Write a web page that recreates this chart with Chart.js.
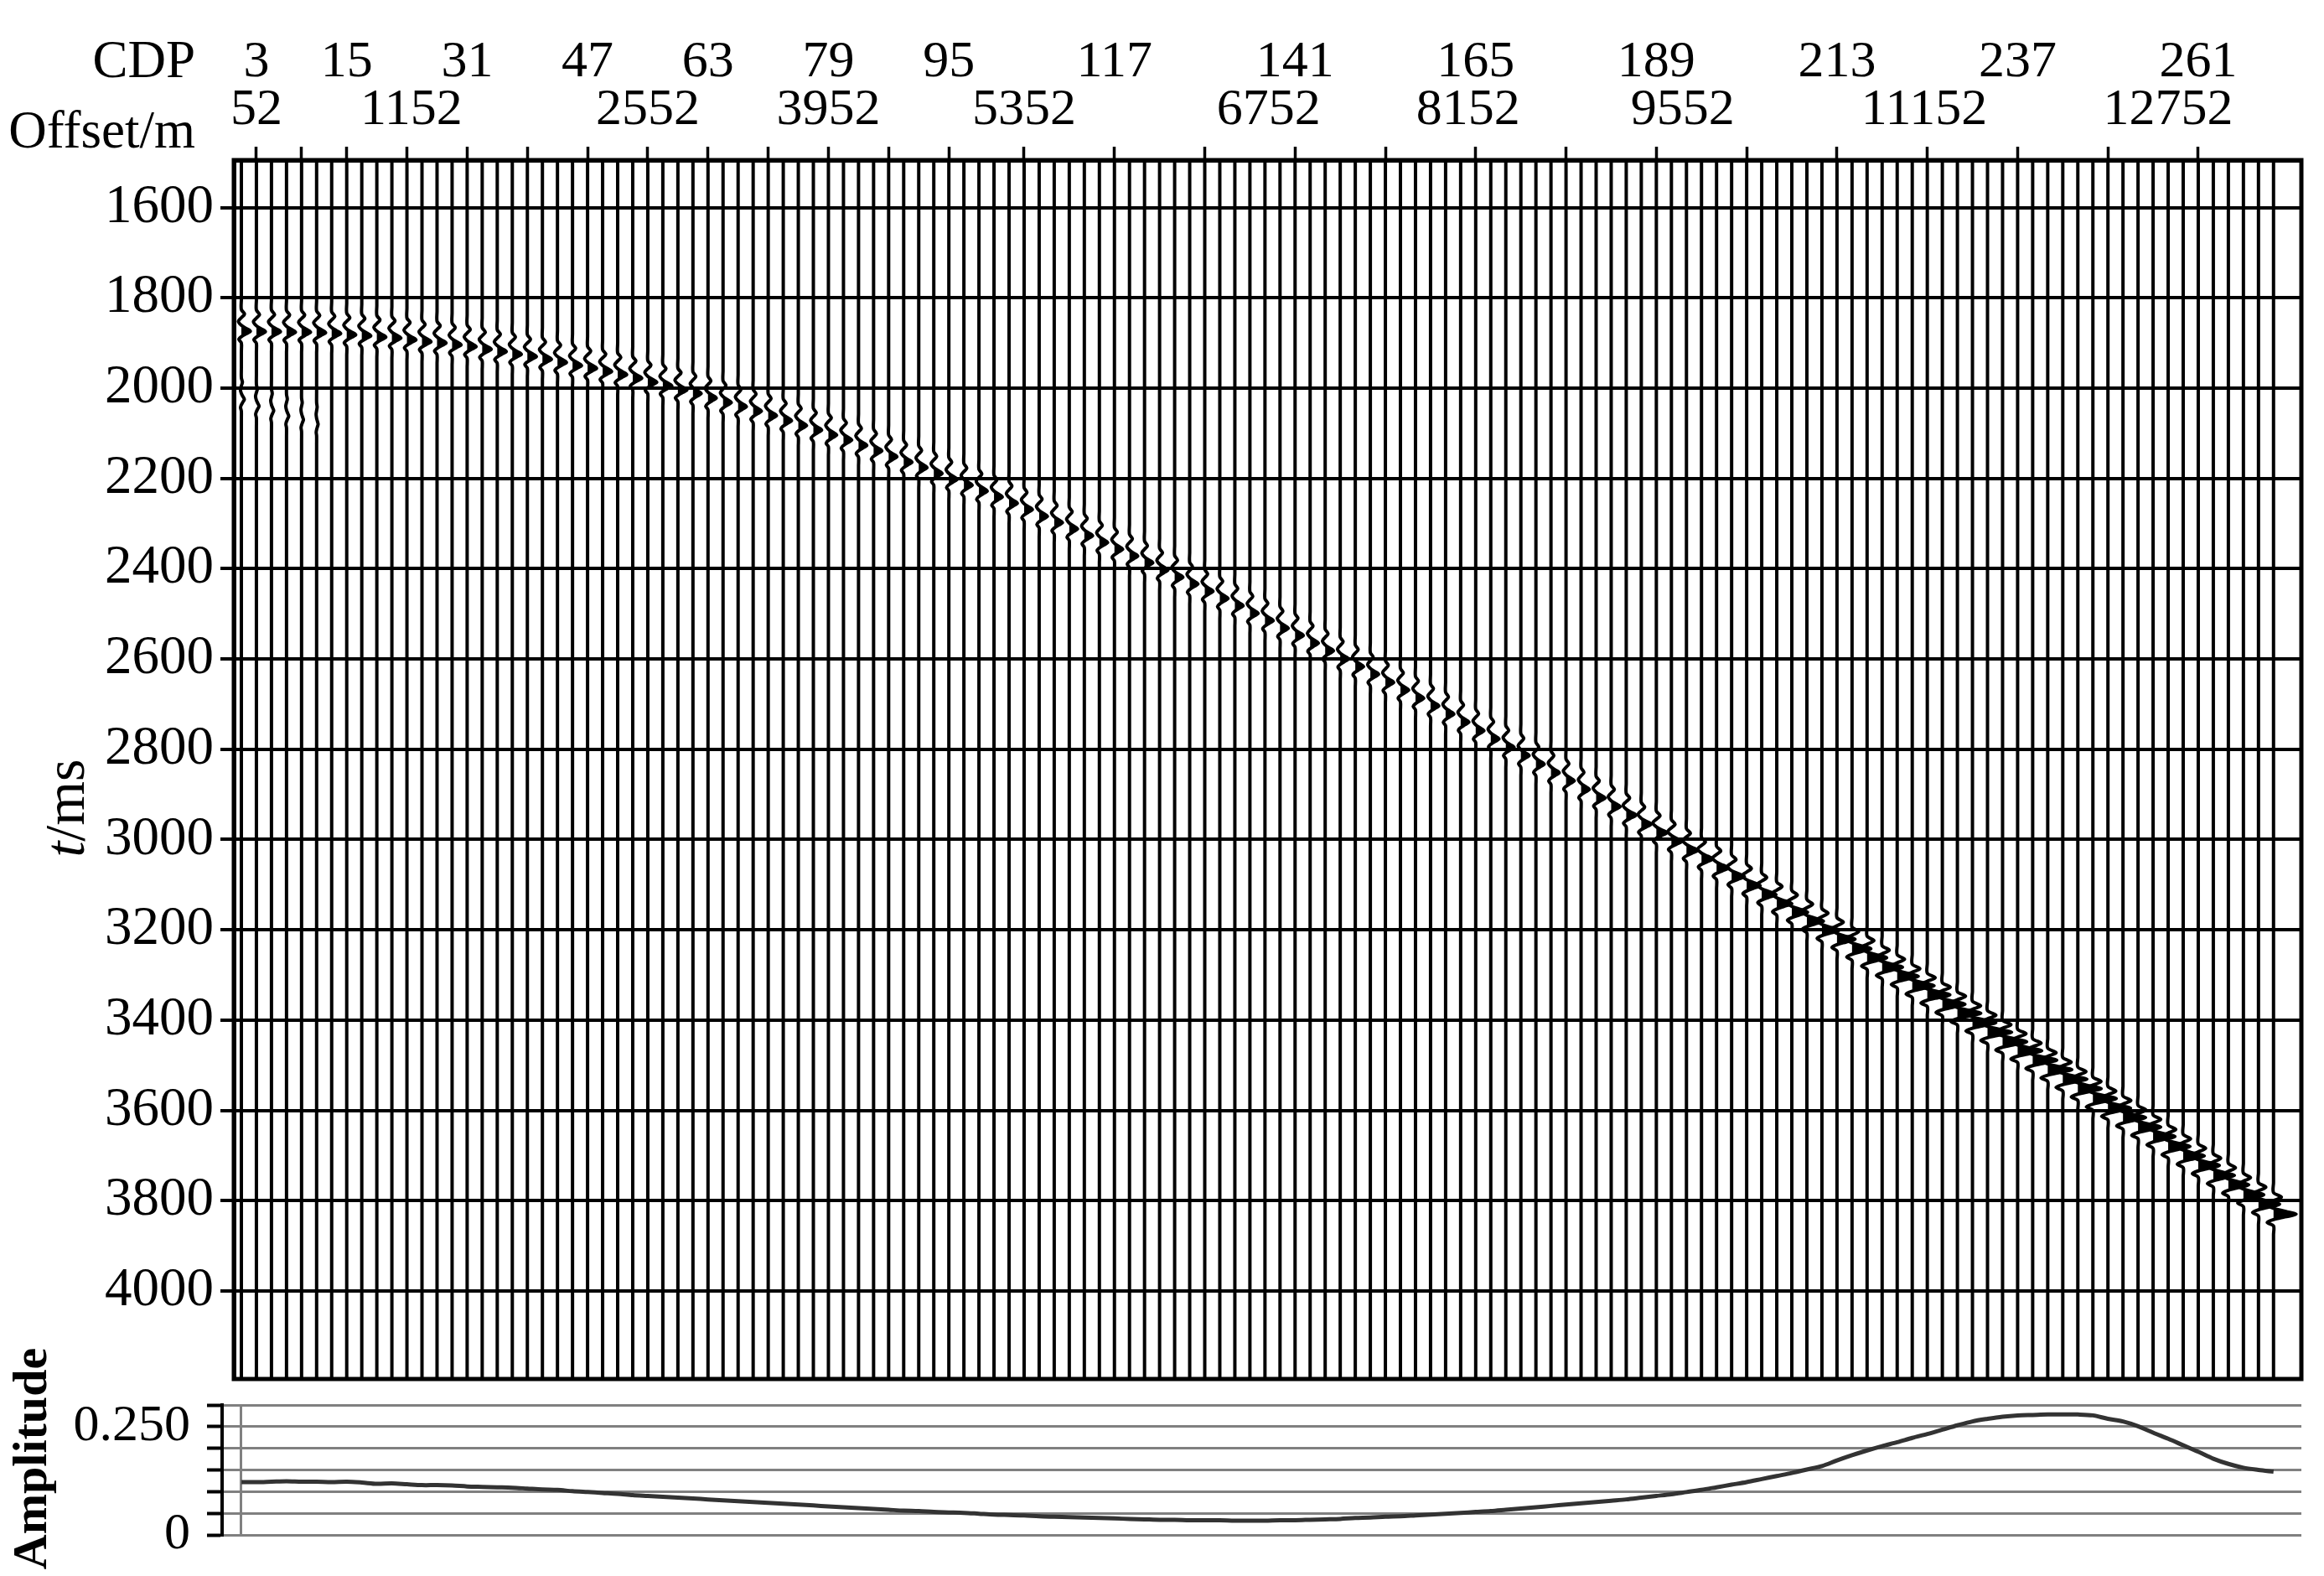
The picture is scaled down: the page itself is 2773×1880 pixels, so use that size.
<!DOCTYPE html>
<html>
<head>
<meta charset="utf-8">
<title>CDP gather</title>
<script src="https://cdn.jsdelivr.net/npm/chart.js@4.4.1/dist/chart.umd.min.js"></script>
<style>
  html, body { margin: 0; padding: 0; background: #fff; }
  #wrap { position: relative; width: 2773px; height: 1880px; }
  #gatherChart { position: absolute; left: 0; top: 0; }
  #ampChart { position: absolute; left: 0; top: 1560px; }
</style>
</head>
<body>
<div id="wrap">
  <canvas id="gatherChart" width="2773" height="1660"></canvas>
  <canvas id="ampChart" width="2773" height="320"></canvas>
</div>
<script>
// one trace every 2 CDP
const traceCdp = [
  1, 3, 5, 7, 9, 11, 13, 15, 17, 19, 21, 23, 25, 27, 29, 31, 33, 35, 37, 39,
  41, 43, 45, 47, 49, 51, 53, 55, 57, 59, 61, 63, 65, 67, 69, 71, 73, 75, 77, 79,
  81, 83, 85, 87, 89, 91, 93, 95, 97, 99, 101, 103, 105, 107, 109, 111, 113, 115, 117, 119,
  121, 123, 125, 127, 129, 131, 133, 135, 137, 139, 141, 143, 145, 147, 149, 151, 153, 155, 157, 159,
  161, 163, 165, 167, 169, 171, 173, 175, 177, 179, 181, 183, 185, 187, 189, 191, 193, 195, 197, 199,
  201, 203, 205, 207, 209, 211, 213, 215, 217, 219, 221, 223, 225, 227, 229, 231, 233, 235, 237, 239,
  241, 243, 245, 247, 249, 251, 253, 255, 257, 259, 261, 263, 265, 267, 269, 271
];

// reflection time (ms) of the main event, per trace
const eventTime = [
  1874, 1875, 1875, 1876, 1876, 1877, 1879, 1882, 1884, 1887,
  1889, 1893, 1897, 1900, 1904, 1908, 1914, 1919, 1925, 1930,
  1936, 1943, 1950, 1956, 1963, 1970, 1978, 1987, 1995, 2004,
  2012, 2022, 2032, 2041, 2051, 2061, 2072, 2083, 2093, 2104,
  2115, 2127, 2139, 2152, 2164, 2176, 2189, 2202, 2215, 2228,
  2241, 2255, 2269, 2284, 2298, 2312, 2327, 2342, 2357, 2372,
  2387, 2403, 2419, 2434, 2450, 2466, 2482, 2499, 2515, 2532,
  2548, 2565, 2582, 2600, 2617, 2634, 2652, 2669, 2687, 2704,
  2722, 2740, 2759, 2777, 2796, 2814, 2833, 2852, 2870, 2889,
  2908, 2927, 2946, 2966, 2985, 3004, 3024, 3043, 3063, 3082,
  3102, 3122, 3142, 3161, 3181, 3201, 3221, 3242, 3262, 3283,
  3303, 3324, 3344, 3365, 3385, 3406, 3427, 3448, 3468, 3489,
  3510, 3531, 3552, 3574, 3595, 3616, 3637, 3658, 3680, 3701,
  3722, 3744, 3765, 3787, 3808, 3830
];

// wiggle deflection (in CDP units) per trace
const wiggleGain = [
  1.2, 1.2, 1.2, 1.2, 1.2, 1.2, 1.2, 1.2, 1.2, 1.2,
  1.2, 1.2, 1.2, 1.2, 1.2, 1.2, 1.2, 1.2, 1.2, 1.2,
  1.2, 1.2, 1.2, 1.2, 1.2, 1.2, 1.2, 1.2, 1.2, 1.2,
  1.1, 1.1, 1.1, 1.1, 1.1, 1.1, 1.1, 1.1, 1.1, 1.1,
  1.1, 1.1, 1.1, 1.1, 1.1, 1.1, 1.1, 1.1, 1.1, 1.1,
  1.1, 1.1, 1.1, 1.1, 1.1, 1.1, 1.1, 1.1, 1.1, 1.1,
  1.1, 1.1, 1.1, 1.1, 1.1, 1.1, 1.1, 1.1, 1.1, 1.1,
  1.1, 1.1, 1.1, 1.1, 1.1, 1.1, 1.1, 1.1, 1.1, 1.1,
  1.1, 1.1, 1.1, 1.1, 1.1, 1.1, 1.1, 1.1, 1.1, 1.1,
  1.2, 1.2, 1.3, 1.3, 1.4, 1.4, 1.5, 1.5, 1.6, 1.7,
  1.8, 1.9, 2.0, 2.1, 2.2, 2.3, 2.4, 2.5, 2.6, 2.7,
  2.8, 2.9, 3.0, 3.0, 3.1, 3.1, 3.2, 3.2, 3.2, 3.2,
  3.2, 3.2, 3.1, 3.1, 3.0, 3.0, 3.0, 2.9, 2.9, 2.8,
  2.8, 2.8, 2.7, 2.7, 2.8, 3.0
];

// weak later event on the nearest traces only
const earlyEventTime = [2025, 2040, 2050, 2062, 2070, 2080];
const earlyEventGain = [0.4, 0.35, 0.3, 0.3, 0.25, 0.2];

// wavelet shape: time (ms) from peak, relative deflection
const waveletMs  = [-70, -48, -38, -30, -22, -13, -6, 0, 6, 12, 18, 26, 45];
const waveletAmp = [0, 0, 0.35, 0, -0.33, 0, 0.55, 1, 0.5, 0, -0.28, 0, 0];

// bottom panel
const amplitude = [
  0.122, 0.122, 0.123, 0.124, 0.123, 0.123, 0.122, 0.123, 0.121, 0.118,
  0.119, 0.117, 0.115, 0.115, 0.114, 0.112, 0.111, 0.110, 0.109, 0.107,
  0.105, 0.104, 0.101, 0.099, 0.097, 0.095, 0.092, 0.090, 0.088, 0.086,
  0.084, 0.082, 0.080, 0.078, 0.076, 0.074, 0.072, 0.070, 0.068, 0.066,
  0.064, 0.062, 0.060, 0.058, 0.056, 0.055, 0.053, 0.052, 0.051, 0.049,
  0.047, 0.046, 0.045, 0.043, 0.042, 0.041, 0.040, 0.039, 0.038, 0.037,
  0.036, 0.035, 0.035, 0.034, 0.034, 0.034, 0.033, 0.033, 0.033, 0.034,
  0.034, 0.035, 0.036, 0.037, 0.039, 0.040, 0.042, 0.043, 0.045, 0.047,
  0.049, 0.051, 0.053, 0.055, 0.058, 0.061, 0.064, 0.067, 0.070, 0.073,
  0.076, 0.079, 0.082, 0.086, 0.090, 0.094, 0.099, 0.104, 0.110, 0.116,
  0.122, 0.129, 0.136, 0.143, 0.151, 0.159, 0.172, 0.184, 0.195, 0.205,
  0.214, 0.224, 0.233, 0.243, 0.253, 0.262, 0.268, 0.273, 0.276, 0.277,
  0.278, 0.278, 0.278, 0.276, 0.268, 0.262, 0.251, 0.236, 0.222, 0.207,
  0.192, 0.176, 0.164, 0.155, 0.150, 0.146
];

// axes
const timeTicks = [1600, 1800, 2000, 2200, 2400, 2600, 2800, 3000, 3200, 3400, 3600, 3800, 4000];
const cdpTickMarks = [3, 9, 15, 23, 31, 39, 47, 55, 63, 71, 79, 87, 95, 105, 117, 129, 141, 153, 165, 177, 189, 201, 213, 225, 237, 249, 261];
const cdpLabels = [3, 15, 31, 47, 63, 79, 95, 117, 141, 165, 189, 213, 237, 261];
const offsetLabels = [52, 1152, 2552, 3952, 5352, 6752, 8152, 9552, 11152, 12752];
const offsetLabelCdp = [3, 23.6, 55, 79, 105, 137.5, 164, 192.5, 224.6, 257];
const ampTicks = [0, 0.05, 0.1, 0.15, 0.2, 0.25, 0.3];
const ampTickLabels = ['0', '', '', '', '', '0.250', ''];

const cdpMin = 0, cdpMax = 274.7;
const timeMin = 1495, timeMax = 4195;

Chart.defaults.font.family = "'Liberation Serif', 'Times New Roman', serif";
Chart.defaults.color = '#000';

// fixed axis size, and no extra label padding pushed into the layout
const fixSize = (size, horizontal) => scale => {
    if (horizontal) scale.height = size;
    else scale.width = size;
    scale.paddingTop = 0;
    scale.paddingBottom = 0;
    scale.paddingLeft = 0;
    scale.paddingRight = 0;
};

// positive lobe around the peak (filled black)
const peakIdx = waveletAmp.indexOf(Math.max(...waveletAmp));
let lobeStart = peakIdx, lobeEnd = peakIdx;
while (lobeStart > 0 && waveletAmp[lobeStart] > 0) lobeStart--;
while (lobeEnd < waveletAmp.length - 1 && waveletAmp[lobeEnd] > 0) lobeEnd++;

const wigglePoints = (cdp, events) => {
    const pts = [{x: cdp, y: timeMin}];
    events.forEach(ev => {
        waveletMs.forEach((dt, j) => pts.push({x: cdp + ev.gain * waveletAmp[j], y: ev.t + dt}));
    });
    pts.push({x: cdp, y: timeMax});
    return pts;
};

const traceSets = traceCdp.map((cdp, i) => {
    const events = [{t: eventTime[i], gain: wiggleGain[i]}];
    if (i < earlyEventTime.length) events.push({t: earlyEventTime[i], gain: earlyEventGain[i]});
    return {
        data: wigglePoints(cdp, events),
        showLine: true,
        borderColor: '#000',
        borderWidth: 4,
        pointRadius: 0,
        tension: 0.3
    };
});

const lobeSets = traceCdp.map((cdp, i) => {
    const pts = [];
    for (let j = lobeStart; j <= lobeEnd; j++) {
        pts.push({x: cdp + wiggleGain[i] * waveletAmp[j], y: eventTime[i] + waveletMs[j]});
    }
    return {
        data: pts,
        showLine: true,
        borderColor: '#000',
        borderWidth: 1,
        backgroundColor: '#000',
        pointRadius: 0,
        tension: 0.3,
        fill: 'shape'
    };
});

const gatherTitles = {
    id: 'gatherTitles',
    afterDraw(chart) {
        const {ctx, chartArea} = chart;
        ctx.save();
        ctx.strokeStyle = '#000';
        ctx.lineWidth = 5;
        ctx.strokeRect(chartArea.left, chartArea.top, chartArea.right - chartArea.left, chartArea.bottom - chartArea.top);

        ctx.fillStyle = '#000';
        ctx.font = "63px 'Liberation Serif'";
        ctx.textAlign = 'right';
        ctx.textBaseline = 'alphabetic';
        ctx.fillText('CDP', 233, 92);
        ctx.fillText('Offset/m', 233, 176);

        // t/ms, rotated
        ctx.translate(82, 964);
        ctx.rotate(-Math.PI / 2);
        ctx.textAlign = 'left';
        ctx.textBaseline = 'middle';
        ctx.font = "italic 68px 'Liberation Serif'";
        const wT = ctx.measureText('t').width;
        ctx.font = "68px 'Liberation Serif'";
        const wRest = ctx.measureText('/ms').width;
        const x0 = -(wT + wRest) / 2;
        ctx.font = "italic 68px 'Liberation Serif'";
        ctx.fillText('t', x0, 0);
        ctx.font = "68px 'Liberation Serif'";
        ctx.fillText('/ms', x0 + wT, 0);
        ctx.restore();
    }
};

const topLabelAxis = (positions, labels, height, padding, weight) => ({
    type: 'linear',
    position: 'top',
    min: cdpMin,
    max: cdpMax,
    weight: weight,
    afterBuildTicks: scale => { scale.ticks = positions.map(v => ({value: v})); },
    afterFit: fixSize(height, true),
    ticks: {
        autoSkip: false,
        maxRotation: 0,
        minRotation: 0,
        padding: padding,
        font: {size: 62, lineHeight: 1},
        callback: (value, index) => String(labels[index])
    },
    grid: {display: false, drawTicks: false},
    border: {display: false}
});

new Chart('gatherChart', {
    type: 'scatter',
    data: {datasets: traceSets.concat(lobeSets)},
    options: {
        responsive: false,
        animation: false,
        layout: {padding: {top: 0, left: 0, right: 27, bottom: 15}},
        plugins: {legend: {display: false}, tooltip: {enabled: false}},
        scales: {
            x: {
                type: 'linear',
                position: 'top',
                min: cdpMin,
                max: cdpMax,
                weight: 0,
                afterBuildTicks: scale => { scale.ticks = cdpTickMarks.map(v => ({value: v})); },
                afterFit: fixSize(16, true),
                ticks: {display: false},
                grid: {drawOnChartArea: false, drawTicks: true, tickLength: 16, tickColor: '#000', tickWidth: 3.5},
                border: {display: true, color: '#000', width: 5}
            },
            xOffset: topLabelAxis(offsetLabelCdp, offsetLabels, 69, 12, 1),
            xCdp: topLabelAxis(cdpLabels, cdpLabels, 106, 0, 2),
            y: {
                type: 'linear',
                position: 'left',
                reverse: true,
                min: timeMin,
                max: timeMax,
                afterBuildTicks: scale => { scale.ticks = timeTicks.map(v => ({value: v})); },
                afterFit: fixSize(279, false),
                ticks: {autoSkip: false, padding: 8, font: {size: 65}, callback: value => String(value)},
                grid: {color: '#000', lineWidth: 4, tickLength: 16, tickColor: '#000', tickWidth: 4},
                border: {color: '#000', width: 5}
            }
        }
    },
    plugins: [gatherTitles]
});

const ampTitle = {
    id: 'ampTitle',
    afterDraw(chart) {
        const {ctx} = chart;
        ctx.save();
        ctx.translate(40, 180);
        ctx.rotate(-Math.PI / 2);
        ctx.fillStyle = '#000';
        ctx.font = "bold 58px 'Liberation Serif'";
        ctx.textAlign = 'center';
        ctx.textBaseline = 'middle';
        ctx.fillText('Amplitude', 0, 0);
        ctx.restore();
    }
};

new Chart('ampChart', {
    type: 'scatter',
    data: {
        datasets: [{
            data: traceCdp.map((cdp, i) => ({x: cdp, y: amplitude[i]})),
            showLine: true,
            borderColor: '#333',
            borderWidth: 5,
            pointRadius: 0,
            tension: 0.3
        }]
    },
    options: {
        responsive: false,
        animation: false,
        layout: {padding: {top: 116, left: 0, right: 27, bottom: 0}},
        plugins: {legend: {display: false}, tooltip: {enabled: false}},
        scales: {
            x: {
                type: 'linear',
                position: 'bottom',
                min: -1.56,
                max: cdpMax,
                afterBuildTicks: scale => { scale.ticks = [{value: traceCdp[0]}]; },
                afterFit: fixSize(49, true),
                ticks: {display: false},
                grid: {color: '#808080', lineWidth: 3, drawTicks: false},
                border: {display: false}
            },
            y: {
                type: 'linear',
                position: 'left',
                min: 0,
                max: 0.3,
                afterBuildTicks: scale => { scale.ticks = ampTicks.map(v => ({value: v})); },
                afterFit: fixSize(265, false),
                ticks: {autoSkip: false, padding: 20, font: {size: 62}, callback: (value, index) => ampTickLabels[index]},
                grid: {color: '#808080', lineWidth: 3, tickLength: 18, tickColor: '#000', tickWidth: 4},
                border: {color: '#000', width: 4}
            }
        }
    },
    plugins: [ampTitle]
});
</script>
</body>
</html>
